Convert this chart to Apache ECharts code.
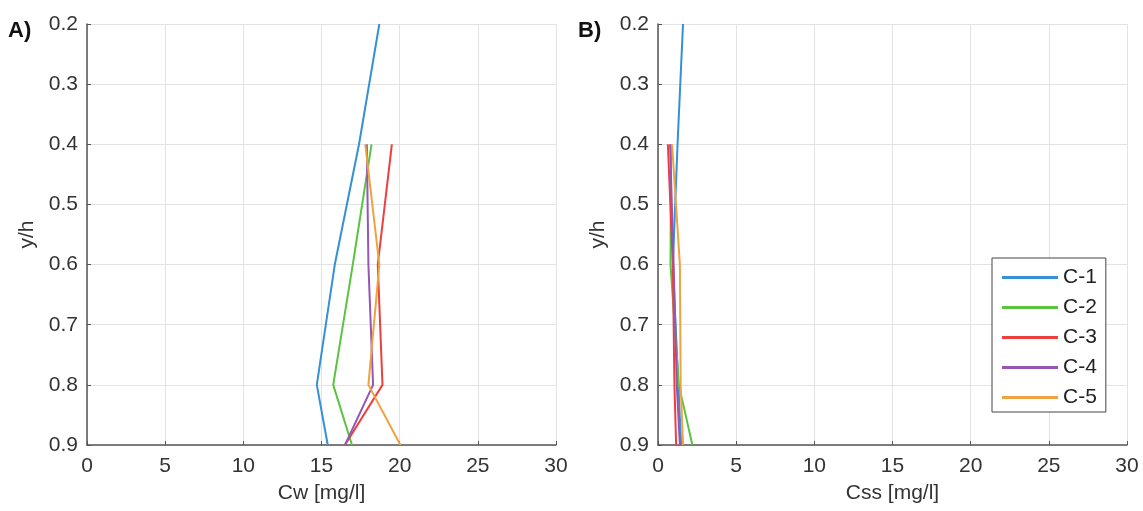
<!DOCTYPE html>
<html>
<head>
<meta charset="utf-8">
<script src="https://cdn.jsdelivr.net/npm/echarts@6/dist/echarts.min.js"></script>
<style>
  html, body { margin: 0; padding: 0; background: #fff; }
  #chart { width: 1143px; height: 511px; }
</style>
</head>
<body>
<div id="chart"></div>
<script>
// Relative depth y/h for each profile
const depthC1 = [0.2, 0.4, 0.6, 0.8, 0.9];
const depthOthers = [0.4, 0.6, 0.8, 0.9];

// Panel A: Cw [mg/l]
const cwC1 = [18.7, 17.4, 15.85, 14.7, 15.4];
const cwC2 = [18.2, 17.0, 15.75, 16.95];
const cwC3 = [19.5, 18.6, 18.9, 16.5];
const cwC4 = [17.9, 18.0, 18.3, 16.5];
const cwC5 = [17.8, 18.7, 18.0, 20.05];

// Panel B: Css [mg/l]
const cssC1 = [1.6, 1.25, 0.95, 1.3, 1.48];
const cssC2 = [0.84, 0.8, 1.33, 2.2];
const cssC3 = [0.63, 0.95, 1.05, 1.16];
const cssC4 = [0.77, 1.0, 1.2, 1.4];
const cssC5 = [0.9, 1.4, 1.45, 1.6];

const seriesNames = ['C-1', 'C-2', 'C-3', 'C-4', 'C-5'];
const colors = ['#3590d6', '#58c43f', '#ee3f3f', '#9557b5', '#eea340'];
const xTicks = [0, 5, 10, 15, 20, 25, 30];

const pair = (xs, ys) => xs.map((v, i) => [v, ys[i]]);

const panelA = [pair(cwC1, depthC1), pair(cwC2, depthOthers), pair(cwC3, depthOthers), pair(cwC4, depthOthers), pair(cwC5, depthOthers)];
const panelB = [pair(cssC1, depthC1), pair(cssC2, depthOthers), pair(cssC3, depthOthers), pair(cssC4, depthOthers), pair(cssC5, depthOthers)];

const font = 'Liberation Sans, Arial, sans-serif';
const axisColor = '#555';
const textColor = '#333';

function xAxis(idx, name) {
  return {
    type: 'value', gridIndex: idx, min: xTicks[0], max: xTicks[xTicks.length - 1], interval: 5,
    name: name, nameLocation: 'middle', nameGap: 38,
    nameTextStyle: { fontFamily: font, fontSize: 21, color: textColor },
    axisLine: { show: true, onZero: false, lineStyle: { color: axisColor, width: 1.5 } },
    axisTick: { show: true, inside: true, length: 4, lineStyle: { color: axisColor } },
    axisLabel: { fontFamily: font, fontSize: 21, color: textColor, margin: 11 },
    splitLine: { show: true, lineStyle: { color: '#e3e3e3', width: 1 } }
  };
}
function yAxis(idx) {
  return {
    type: 'value', gridIndex: idx, min: 0.2, max: 0.9, interval: 0.1, inverse: true,
    name: 'y/h', nameLocation: 'middle', nameGap: 49, nameRotate: 90,
    nameTextStyle: { fontFamily: font, fontSize: 21, color: textColor },
    axisLine: { show: true, onZero: false, lineStyle: { color: axisColor, width: 1.5 } },
    axisTick: { show: true, inside: true, length: 4, lineStyle: { color: axisColor } },
    axisLabel: { fontFamily: font, fontSize: 21, color: textColor, margin: 9,
      formatter: v => v.toFixed(1) },
    splitLine: { show: true, lineStyle: { color: '#e3e3e3', width: 1 } }
  };
}

const series = [];
[panelA, panelB].forEach((panel, p) => {
  panel.forEach((data, i) => {
    series.push({
      name: seriesNames[i], type: 'line', xAxisIndex: p, yAxisIndex: p,
      data: data, symbol: 'none', smooth: false, clip: true,
      lineStyle: { color: colors[i], width: 2 }, itemStyle: { color: colors[i] }
    });
  });
});

const chart = echarts.init(document.getElementById('chart'), null, { renderer: 'canvas' });
chart.setOption({
  animation: false,
  color: colors,
  grid: [
    { left: 87, right: 587, top: 24, bottom: 66 },
    { left: 658, right: 16, top: 24, bottom: 66 }
  ],
  xAxis: [xAxis(0, 'Cw [mg/l]'), xAxis(1, 'Css [mg/l]')],
  yAxis: [yAxis(0), yAxis(1)],
  legend: {
    data: seriesNames, orient: 'vertical', left: 992, top: 258,
    itemWidth: 56, itemHeight: 3, itemGap: 9,
    icon: 'rect',
    padding: [9, 9, 4, 10],
    backgroundColor: '#fff', borderColor: '#444', borderWidth: 1,
    textStyle: { fontFamily: font, fontSize: 21, lineHeight: 20, color: '#222' }
  },
  graphic: [
    { type: 'text', left: 8, top: 20, style: { text: 'A)', font: 'bold 22px ' + font, fill: '#111' } },
    { type: 'text', left: 578, top: 20, style: { text: 'B)', font: 'bold 22px ' + font, fill: '#111' } }
  ],
  series: series
});
</script>
</body>
</html>
